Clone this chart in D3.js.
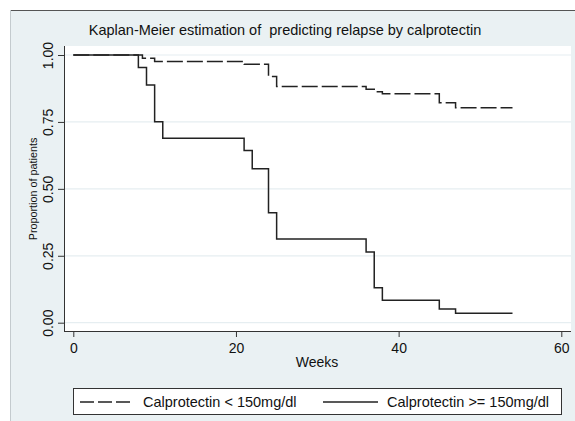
<!DOCTYPE html>
<html>
<head>
<meta charset="utf-8">
<script src="https://cdn.jsdelivr.net/npm/d3@7"></script>
<style>
  body { margin: 0; background: #fff; }
  text { font-family: "Liberation Sans", Arial, sans-serif; fill: #111; }
</style>
</head>
<body>
<div id="chart"></div>
<script>
// KM step data (weeks, proportion)
var lowWeeks = [0, 8.5, 10, 21, 24, 25, 36, 37, 38, 45, 47, 54];
var lowSurv  = [1, 0.988, 0.976, 0.965, 0.92, 0.882, 0.872, 0.863, 0.855, 0.822, 0.803, 0.803];
var highWeeks = [0, 8, 9, 10, 11, 21, 22, 24, 25, 36, 37, 38, 45, 47, 54];
var highSurv  = [1, 0.953, 0.888, 0.751, 0.689, 0.643, 0.575, 0.411, 0.313, 0.264, 0.131, 0.084, 0.051, 0.035, 0.035];
var xTicks = [0, 20, 40, 60];
var yTicks = [0, 0.25, 0.5, 0.75, 1];
var seriesNames = ["Calprotectin < 150mg/dl", "Calprotectin >= 150mg/dl"];

var w = 575, h = 421;
var svg = d3.select("#chart").append("svg")
    .attr("width", w).attr("height", h);

// outer graph region
svg.append("rect").attr("x", 10).attr("y", 10).attr("width", w - 10).attr("height", h - 10)
    .attr("fill", "#eaf1f3");
svg.append("line").attr("x1", 10).attr("x2", w).attr("y1", 10.5).attr("y2", 10.5)
    .attr("stroke", "#555").attr("stroke-width", 1);
svg.append("line").attr("x1", 10.5).attr("x2", 10.5).attr("y1", 10).attr("y2", h)
    .attr("stroke", "#c4cbce").attr("stroke-width", 1);

// plot region
svg.append("rect").attr("x", 64).attr("y", 46).attr("width", 507).attr("height", 285)
    .attr("fill", "#fff");

var x = d3.scaleLinear().domain([0, 60]).range([73.3, 561.3]);
var y = d3.scaleLinear().domain([0, 1]).range([322.7, 55]);

// gridlines
svg.append("g").selectAll("line").data(yTicks).enter().append("line")
    .attr("x1", 64).attr("x2", 571)
    .attr("y1", function(d) { return y(d); }).attr("y2", function(d) { return y(d); })
    .attr("stroke", "#e6eef1").attr("stroke-width", 1.2);

// axes
var yAxis = d3.axisLeft(y).tickValues(yTicks).tickSize(6).tickFormat(d3.format(".2f"));
var gy = svg.append("g").attr("transform", "translate(64,0)").call(yAxis);
gy.select(".domain").attr("d", "M0.5,46V331").attr("stroke", "#333");
gy.selectAll(".tick line").attr("stroke", "#333");
gy.selectAll(".tick text")
    .attr("x", null).attr("dy", null)
    .attr("transform", "translate(-11.5,0) rotate(-90)")
    .attr("text-anchor", "middle")
    .style("font-size", "14px").attr("fill", "#111");

var xAxis = d3.axisBottom(x).tickValues(xTicks).tickSize(6);
var gx = svg.append("g").attr("transform", "translate(0,331)").call(xAxis);
gx.select(".domain").attr("d", "M64,0.5H571").attr("stroke", "#333");
gx.selectAll(".tick line").attr("stroke", "#333");
gx.selectAll(".tick text").attr("y", 22).attr("dy", null)
    .style("font-size", "14px").attr("fill", "#111");

// KM step lines
var line = d3.line()
    .x(function(d) { return x(d[0]); })
    .y(function(d) { return y(d[1]); })
    .curve(d3.curveStepAfter);

svg.append("path").datum(d3.zip(lowWeeks, lowSurv))
    .attr("d", line).attr("fill", "none")
    .attr("stroke", "#222").attr("stroke-width", 1.5)
    .attr("stroke-dasharray", "16,4");
svg.append("path").datum(d3.zip(highWeeks, highSurv))
    .attr("d", line).attr("fill", "none")
    .attr("stroke", "#222").attr("stroke-width", 1.5);

// titles
svg.append("text").attr("x", 285).attr("y", 35)
    .attr("text-anchor", "middle").style("font-size", "14.5px")
    .style("white-space", "pre")
    .text("Kaplan-Meier estimation of  predicting relapse by calprotectin");
svg.append("text").attr("x", 317).attr("y", 367)
    .attr("text-anchor", "middle").style("font-size", "14px")
    .text("Weeks");
svg.append("text")
    .attr("transform", "translate(37,189) rotate(-90)")
    .attr("text-anchor", "middle").style("font-size", "10.8px")
    .text("Proportion of patients");

// legend
var lg = svg.append("g");
lg.append("rect").attr("x", 73.5).attr("y", 388.5).attr("width", 488).attr("height", 26)
    .attr("fill", "#fff").attr("stroke", "#333").attr("stroke-width", 1);
var legendItems = [
  { name: seriesNames[0], x0: 80, x1: 132, tx: 143, dash: "14,4" },
  { name: seriesNames[1], x0: 323, x1: 378, tx: 387, dash: null }
];
legendItems.forEach(function(it) {
  lg.append("line").attr("x1", it.x0).attr("x2", it.x1).attr("y1", 402).attr("y2", 402)
    .attr("stroke", "#222").attr("stroke-width", 1.5)
    .attr("stroke-dasharray", it.dash);
  lg.append("text").attr("x", it.tx).attr("y", 406.5).style("font-size", "14.5px")
    .text(it.name);
});
</script>
</body>
</html>
